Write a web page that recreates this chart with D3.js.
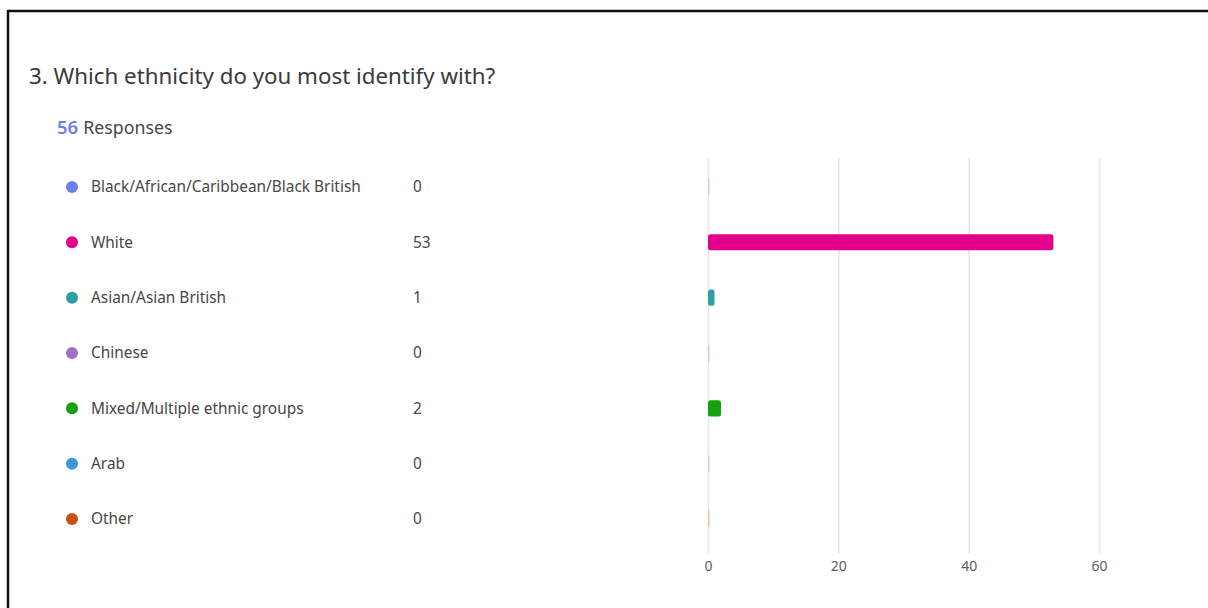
<!DOCTYPE html>
<html>
<head>
<meta charset="utf-8">
<script src="https://cdn.jsdelivr.net/npm/d3@7"></script>
<style>
  html, body { margin: 0; padding: 0; background: #fff; overflow: hidden; }
  svg { display: block; overflow: hidden; font-family: "Segoe UI", "Noto Sans", "Open Sans", sans-serif; }
</style>
</head>
<body>
<svg id="chart" width="1208" height="608"></svg>
<script>
// Survey question and response totals
const title = "3. Which ethnicity do you most identify with?";
const responseCount = 56;
const responseLabel = "Responses";

// Answer options, counts and their colours
const categories = [
  "Black/African/Caribbean/Black British",
  "White",
  "Asian/Asian British",
  "Chinese",
  "Mixed/Multiple ethnic groups",
  "Arab",
  "Other"
];
const counts = [0, 53, 1, 0, 2, 0, 0];
const colors = ["#6b7fe8", "#e3008c", "#2aa0a4", "#9a73c4", "#13a10e", "#3a96dd", "#ca5010"];
const xTicks = [0, 20, 40, 60];

const svg = d3.select("#chart");

// Card frame (left and top edges)
svg.append("line").attr("x1", 8).attr("x2", 8).attr("y1", 10).attr("y2", 608)
  .attr("stroke", "#111").attr("stroke-width", 2.5);
svg.append("line").attr("x1", 7).attr("x2", 1208).attr("y1", 11).attr("y2", 11)
  .attr("stroke", "#111").attr("stroke-width", 2.5);

// Heading
svg.append("text").attr("x", 29).attr("y", 84)
  .attr("font-size", 22.3).attr("fill", "#3b3a39").text(title);

const resp = svg.append("text").attr("x", 57).attr("y", 134).attr("font-size", 18.5);
resp.append("tspan").attr("fill", "#6b7fe8").attr("font-weight", 600).text(responseCount);
resp.append("tspan").attr("fill", "#484644").attr("font-size", 17.8).attr("dx", 5).text(responseLabel);

// Row positions shared by the list and the bars
const y = d3.scaleBand().domain(categories).range([159, 547]).paddingInner(0.71).paddingOuter(0.36);
const x = d3.scaleLinear().domain([0, 60]).range([708, 1099]);

// Legend list with counts
const rows = svg.append("g").selectAll("g").data(categories).join("g")
  .attr("transform", d => `translate(0,${y(d) + y.bandwidth() / 2})`);
rows.append("circle").attr("cx", 72).attr("cy", 0).attr("r", 6)
  .attr("fill", (d, i) => colors[i]);
rows.append("text").attr("x", 91).attr("dy", "0.35em").attr("font-size", 15.4)
  .attr("fill", "#484644").text(d => d);
rows.append("text").attr("x", 413).attr("dy", "0.35em").attr("font-size", 15.4)
  .attr("fill", "#484644").text((d, i) => counts[i]);

// Vertical gridlines and axis labels
const axis = d3.axisBottom(x).tickValues(xTicks).tickSize(-(553 - 158)).tickPadding(8);
const gAxis = svg.append("g").attr("transform", "translate(0,553)").call(axis);
gAxis.select(".domain").remove();
gAxis.selectAll(".tick line").attr("stroke", "#e6e6e6").attr("stroke-width", 1.5);
gAxis.selectAll(".tick text").attr("fill", "#605e5c").attr("font-size", 14)
  .attr("font-family", "\"Segoe UI\", \"Noto Sans\", sans-serif");

// Bars (zero counts show as a faint stub on the baseline)
svg.append("g").selectAll("rect").data(categories).join("rect")
  .attr("x", x(0))
  .attr("y", d => y(d))
  .attr("height", y.bandwidth())
  .attr("width", (d, i) => Math.max(x(counts[i]) - x(0), 1.5))
  .attr("rx", (d, i) => counts[i] > 0 ? 2.5 : 0)
  .attr("fill", (d, i) => colors[i])
  .attr("opacity", (d, i) => counts[i] > 0 ? 1 : 0.25);
</script>
</body>
</html>
